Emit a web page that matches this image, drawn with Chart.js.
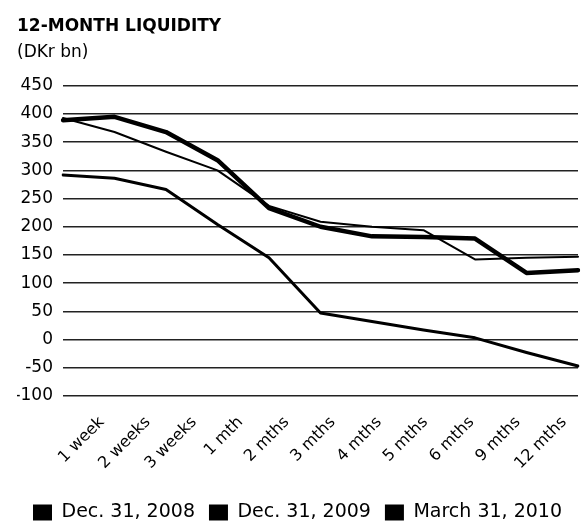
<!DOCTYPE html>
<html>
<head>
<meta charset="utf-8">
<script src="https://cdn.jsdelivr.net/npm/chart.js@4"></script>
<style>
  html, body { margin: 0; padding: 0; background: #fff; }
  #wrap { width: 582px; height: 522px; position: relative; }
</style>
</head>
<body>
<div id="wrap"><canvas id="liquidez"></canvas></div>
<script>
// periodos del eje x
const periods = ['1 week', '2 weeks', '3 weeks', '1 mth', '2 mths', '3 mths', '4 mths', '5 mths', '6 mths', '9 mths', '12 mths'];

// DKr bn
const dec2008 = [292, 286, 266, 204, 145, 47, 32, 17, 3, -23, -47];
const dec2009 = [393, 368, 333, 300, 237, 209, 200, 194, 142, 145, 147];
const mar2010 = [389, 395, 368, 318, 233, 200, 183, 182, 179, 118, 123];

const yTicks = [450, 400, 350, 300, 250, 200, 150, 100, 50, 0, -50, -100];

const fuente = 'DejaVu Sans';

let ctx = document.getElementById('liquidez').getContext('2d');

var myLineChart = new Chart(ctx, {
    type: 'line',
    data: {
        labels: periods,
        datasets: [{
            label: 'Dec. 31, 2008',
            data: dec2008,
            borderColor: '#000',
            backgroundColor: '#000',
            borderWidth: 3
        }, {
            label: 'Dec. 31, 2009',
            data: dec2009,
            borderColor: '#000',
            backgroundColor: '#000',
            borderWidth: 2
        }, {
            label: 'March 31, 2010',
            data: mar2010,
            borderColor: '#000',
            backgroundColor: '#000',
            borderWidth: 4.5
        }]
    },
    options: {
        responsive: true,
        maintainAspectRatio: false,
        animation: false,
        elements: {
            point: { radius: 0 },
            line: { tension: 0, borderJoinStyle: 'round', borderCapStyle: 'round' }
        },
        layout: {
            padding: { left: 17, right: 4, top: 0, bottom: -10 }
        },
        scales: {
            x: {
                display: false
            },
            // eje solo para las etiquetas giradas
            xl: {
                type: 'linear',
                position: 'bottom',
                min: -0.84,
                max: 10.30,
                afterBuildTicks: function(scale) {
                    scale.ticks = periods.map((p, i) => ({ value: i }));
                },
                afterFit: function(scale) {
                    scale.paddingLeft = 0;
                    scale.paddingRight = 0;
                    scale.height += 7;
                },
                grid: { display: false },
                border: { display: false },
                ticks: {
                    autoSkip: false,
                    minRotation: 45,
                    maxRotation: 45,
                    padding: 9,
                    color: '#000',
                    font: { family: fuente, size: 16 },
                    callback: function(v) { return periods[v]; }
                }
            },
            y: {
                min: -100,
                max: 450,
                afterBuildTicks: function(scale) {
                    scale.ticks = yTicks.map(v => ({ value: v }));
                },
                afterFit: function(scale) {
                    scale.width = 46;
                },
                grid: {
                    color: '#222',
                    lineWidth: 1.4,
                    drawTicks: false
                },
                border: { display: false },
                ticks: {
                    autoSkip: false,
                    padding: 10,
                    color: '#000',
                    font: { family: fuente, size: 17 }
                }
            }
        },
        plugins: {
            title: {
                display: true,
                text: '12-MONTH LIQUIDITY',
                align: 'start',
                color: '#000',
                font: { family: fuente, size: 17, weight: 'bold' },
                padding: { top: 16, bottom: 4 }
            },
            subtitle: {
                display: true,
                text: '(DKr bn)',
                align: 'start',
                color: '#000',
                font: { family: fuente, size: 17 },
                padding: { top: 2, bottom: 23 }
            },
            legend: {
                position: 'bottom',
                labels: {
                    boxWidth: 19,
                    boxHeight: 16,
                    padding: 14,
                    color: '#000',
                    font: { family: fuente, size: 19 },
                    generateLabels: function(chart) {
                        return Chart.defaults.plugins.legend.labels.generateLabels(chart).map(l => {
                            l.lineWidth = 0;
                            l.fillStyle = '#000';
                            return l;
                        });
                    }
                }
            },
            tooltip: { enabled: false }
        }
    }
});
</script>
</body>
</html>
